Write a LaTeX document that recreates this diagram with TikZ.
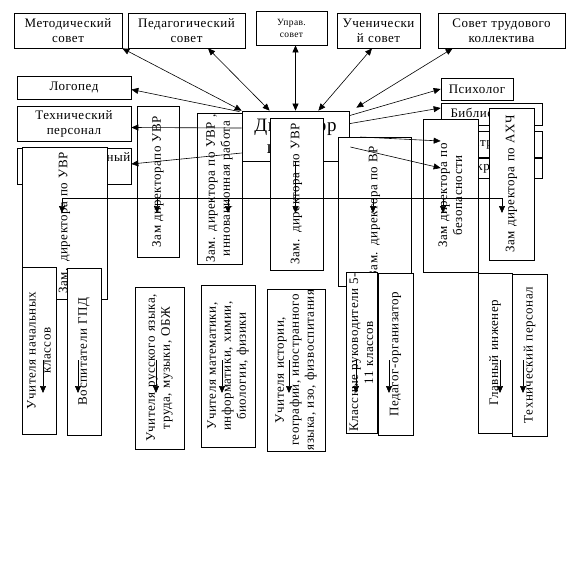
\documentclass[tikz,border=0pt]{standalone}
\usepackage{fontspec}
\setmainfont{Liberation Serif}[LetterSpace=4]
\usetikzlibrary{arrows.meta}

\tikzset{
  box/.style={draw, fill=white, line width=0.7pt, align=center, inner ysep=1pt, inner xsep=0pt, font=\fontsize{13}{15}\selectfont},
  hbox/.style 2 args={box, minimum width=#1pt, text width=#1pt, minimum height=#2pt},
  vbox/.style 2 args={box, rotate=90, minimum width=#1pt, text width=#1pt, minimum height=#2pt},
  conn/.style={line width=0.6pt},
  arr/.style={conn, -{Triangle[length=7pt,width=6pt]}},
  darr/.style={conn, {Triangle[length=7pt,width=6pt]}-{Triangle[length=7pt,width=6pt]}},
}

\begin{document}
\begin{tikzpicture}[x=1pt, y=-1pt]
    \useasboundingbox (0,0) rectangle (579,579);
    % councils
    \node[hbox={108}{35}] (metod) at (68,30.5) {Методический\\совет};
    \node[hbox={117}{35}] (pedsov) at (186.5,30.5) {Педагогический\\совет};
    \node[hbox={71}{34}, font=\fontsize{9.5}{12}\selectfont] (uprav) at (291.5,28) {Управ.\\совет};
    \node[hbox={83}{35}] (uchsov) at (378.5,30.5) {Ученически\\й совет};
    \node[hbox={127}{35}] (stk) at (501.5,30.5) {Совет трудового\\коллектива};
    % staff left
    \node[hbox={114}{23}] (logoped) at (74,87.5) {Логопед};
    \node[hbox={114}{35}] (tehpers) at (74,123.5) {Технический\\персонал};
    \node[hbox={114}{36}] (socped) at (74,166) {\hspace*{38pt}Социальный\\педагог};
    % staff right
    \node[hbox={72}{22}] (psiholog) at (477,89) {Психолог};
    \node[hbox={101}{22}] (bibl) at (491.5,114) {Библиотекарь};
    \node[hbox={101}{26}] (instr) at (491.5,144) {Инструктор};
    \node[hbox={101}{20}] (sekr) at (491.5,168) {Секретарь};
    % director
    \node[hbox={107}{50}, font=\fontsize{19}{22}\selectfont] (dir) at (295.5,136) {Директор\\школы};
    % deputies
    \node[vbox={152}{85}] (zamuvrA) at (64.5,223) {Зам. директора по УВР};
    \node[vbox={151}{42}] (zamuvrB) at (158,181.5) {Зам директорапо УВР};
    \node[vbox={151}{45}] (zaminn) at (219.5,188.5) {Зам. директора по УВР ,\\инновационная работа};
    \node[vbox={152}{53}] (zamuvrC) at (296.5,194) {Зам. директора по УВР};
    \node[vbox={149}{73}] (zamvr) at (374.5,211.5) {Зам. директора по ВР};
    \node[vbox={153}{55}] (zambez) at (450.5,195.5) {Зам директора по\\безопасности};
    \node[vbox={152}{45}] (zamahch) at (511.5,184) {Зам директора по АХЧ};
    % teachers and staff
    \node[vbox={167}{34}] (nachkl) at (39,350.5) {Учителя начальных\\классов};
    \node[vbox={167}{34}] (gpd) at (84,351.5) {Воспитатели ГПД};
    \node[vbox={162}{49}] (rus) at (159.5,368) {Учителя русского языка,\\труда, музыки, ОБЖ};
    \node[vbox={162}{54}] (mat) at (228,366) {Учителя математики,\\информатики, химии,\\биологии, физики};
    \node[vbox={162}{58}] (ist) at (296,370) {Учителя истории,\\географии, иностранного\\языка, изо, физвоспитания};
    \node[vbox={161}{31}] (klruk) at (361.5,352.5) {Классные руководители 5-\\11 классов};
    \node[vbox={162}{35}] (pedorg) at (395.5,354) {Педагог-организатор};
    \node[vbox={160}{34}] (glinzh) at (495,353) {Главный инженер};
    \node[vbox={162}{35}] (tehpers2) at (529.5,355) {Технический персонал};

    % councils <-> director
    \draw[darr] (metod.south east) -- (dir.north west);
    \draw[darr] ([xshift=21.5]pedsov.south) -- ([xshift=28]dir.north west);
    \draw[darr] ([xshift=4]uprav.south) -- (dir.north);
    \draw[darr] ([xshift=-6.5]uchsov.south) -- ([xshift=-31]dir.north east);
    \draw[darr] ([xshift=15]stk.south west) -- ([shift={(7,-3)}]dir.north east);
    % director -> staff
    \draw[arr] ([shift={(-2,1)}]dir.north west) -- ([shift={(0,2)}]logoped.east);
    \draw[arr] ([shift={(0,-8)}]dir.west) -- ([shift={(0,4)}]tehpers.east);
    \draw[arr] ([shift={(0,17)}]dir.west) -- ([shift={(0,-2)}]socped.east);
    \draw[arr] ([shift={(0,5)}]dir.north east) -- (psiholog.west);
    \draw[arr] ([shift={(0,13)}]dir.north east) -- ([shift={(0,-6)}]bibl.west);
    \draw[arr] ([shift={(11,1)}]dir.east) -- ([shift={(0,-3)}]instr.west);
    \draw[arr] ([shift={(1,11)}]dir.east) -- (sekr.west);

    % director -> deputies
    \coordinate (busL) at (62,198);
    \coordinate (busR) at (502,198);
    \coordinate (dA) at (62,213);
    \coordinate (dB) at (157,213);
    \coordinate (dI) at (228,213);
    \coordinate (dC) at (295.5,213);
    \coordinate (dV) at (373,213);
    \coordinate (dS) at (443,213);
    \coordinate (dH) at (502,213);
    \draw[conn] (busL) -- (busR);
    \draw[arr] (dir.south) -- (dC);
    \draw[arr] (dA |- busL) -- (dA);
    \draw[arr] (dB |- busL) -- (dB);
    \draw[arr] (dI |- busL) -- (dI);
    \draw[arr] (dV |- busL) -- (dV);
    \draw[arr] (dS |- busL) -- (dS);
    \draw[arr] (dH |- busL) -- (dH);

    % deputies -> teachers
    \coordinate (tN) at (43,393);
    \coordinate (tG) at (78,393);
    \coordinate (tR) at (156,393);
    \coordinate (tM) at (222,393);
    \coordinate (tI) at (289,393);
    \coordinate (tK) at (356,393);
    \coordinate (tP) at (389,393);
    \coordinate (tE) at (500,393);
    \coordinate (tT) at (523,393);
    \draw[arr] ([yshift=33]tN) -- (tN);
    \draw[arr] ([yshift=33]tG) -- (tG);
    \draw[arr] ([yshift=33]tR) -- (tR);
    \draw[arr] ([yshift=33]tM) -- (tM);
    \draw[arr] ([yshift=33]tI) -- (tI);
    \draw[arr] ([yshift=33]tK) -- (tK);
    \draw[arr] ([yshift=33]tP) -- (tP);
    \draw[arr] ([yshift=33]tE) -- (tE);
    \draw[arr] ([yshift=33]tT) -- (tT);
\end{tikzpicture}
\end{document}
